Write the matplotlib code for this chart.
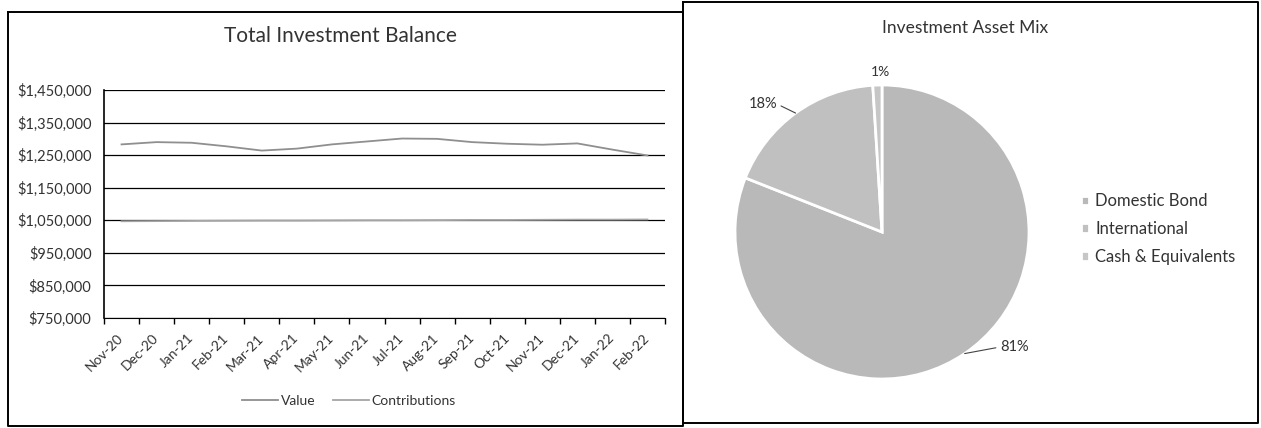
import numpy as np
import matplotlib.pyplot as plt
from matplotlib.lines import Line2D
from matplotlib.ticker import FuncFormatter, FixedLocator

plt.rcParams["font.family"] = ["Lato", "DejaVu Sans"]

W, H = 1261, 428

months = ["Nov-20", "Dec-20", "Jan-21", "Feb-21", "Mar-21", "Apr-21", "May-21", "Jun-21",
          "Jul-21", "Aug-21", "Sep-21", "Oct-21", "Nov-21", "Dec-21", "Jan-22", "Feb-22"]
value = [1283000, 1290000, 1288000, 1277000, 1264000, 1270000, 1283000, 1292000,
         1301000, 1300000, 1290000, 1285000, 1282000, 1286000, 1267000, 1249000]
contributions = [1047000, 1047500, 1048000, 1048500, 1049000, 1049000, 1049500, 1050000,
                 1050000, 1050500, 1051000, 1051000, 1051500, 1052000, 1052000, 1052500]

asset_names = ["Domestic Bond", "International", "Cash & Equivalents"]
asset_share = [81, 18, 1]

text_col = "#333333"
line_col = "#8f8f8f"


def px_box(x0, y0, x1, y1):
    # pixel box (top-left origin) -> figure fraction [left, bottom, width, height]
    return [x0 / W, 1 - y1 / H, (x1 - x0) / W, (y1 - y0) / H]


fig = plt.figure(figsize=(W / 100, H / 100), dpi=100)
fig.patch.set_facecolor("white")

# ---- Total Investment Balance ----
ax = fig.add_axes(px_box(104, 90, 665, 318))
x = np.arange(len(months))
ax.plot(x, value, color=line_col, lw=1.3, label="Value")
ax.plot(x, contributions, color="#a5a5a5", lw=1.3, label="Contributions")
ax.set_xlim(-0.5, len(months) - 0.5)
ax.set_ylim(750000, 1450000)
ax.set_yticks(np.arange(750000, 1450001, 100000))
ax.yaxis.set_major_formatter(FuncFormatter(lambda v, p: f"${v:,.0f}"))
ax.grid(axis="y", color="black", lw=0.9)
ax.set_axisbelow(True)
for s in ["top", "right"]:
    ax.spines[s].set_visible(False)
ax.spines["left"].set_color("black")
ax.spines["bottom"].set_color("black")
ax.spines["left"].set_linewidth(1.2)
ax.tick_params(axis="y", length=0, pad=9, labelsize=10.5, labelcolor=text_col)
ax.set_xticks(x)
ax.set_xticklabels(months, rotation=45, ha="right", va="center", rotation_mode="anchor")
ax.tick_params(axis="x", which="major", length=0, pad=13, labelsize=10, labelcolor=text_col)
ax.xaxis.set_minor_locator(FixedLocator(np.arange(-0.5, len(months), 1.0)))
ax.tick_params(axis="x", which="minor", length=4, width=1, color="black", direction="out")

fig.legend(loc="center", bbox_to_anchor=(349 / W, 1 - 401 / H), ncol=2, frameon=False,
           fontsize=10, handlelength=2.6, handletextpad=0.2, columnspacing=1.2,
           labelcolor=text_col)
fig.text(340 / W, 1 - 36 / H, "Total Investment Balance", ha="center", va="center",
         fontsize=15, color=text_col)

# ---- Investment Asset Mix ----
cx, cy, r = 882, 232, 147
pax = fig.add_axes(px_box(cx - r, cy - r, cx + r, cy + r))
wedges, _ = pax.pie(asset_share, startangle=90, counterclock=False,
                    colors=["#b9b9b9", "#c0c0c0", "#c6c6c6"],
                    wedgeprops=dict(edgecolor="white", linewidth=2))
pax.set_xlim(-1, 1)
pax.set_ylim(-1, 1)
pax.set_aspect("equal")
pax.axis("off")

total = sum(asset_share)
label_pos = [((1000 - cx) / r, (cy - 347) / r, "left"),
             ((777 - cx) / r, (cy - 104) / r, "right"),
             ((880 - cx) / r, (cy - 72) / r, "center")]
start = 90.0
for share, (tx, ty, ha) in zip(asset_share, label_pos):
    frac = share / total
    mid = np.deg2rad(start - 180 * frac)
    start -= 360 * frac
    edge = (np.cos(mid), np.sin(mid))
    txt = f"{100 * frac:.0f}%"
    if ha == "center":
        pax.text(tx, ty, txt, ha="center", va="center", fontsize=10, color=text_col,
                 clip_on=False)
    else:
        pax.annotate(txt, xy=edge, xytext=(tx, ty), ha=ha, va="center", fontsize=10.5,
                     color=text_col, annotation_clip=False,
                     arrowprops=dict(arrowstyle="-", color="#444444", lw=0.8,
                                     relpos=(0 if ha == "left" else 1, 0.5),
                                     shrinkA=1, shrinkB=0))

fig.legend(wedges, asset_names, loc="center left",
           bbox_to_anchor=(1066 / W, 1 - 229 / H), frameon=False, fontsize=12,
           handlelength=0.5, handleheight=0.5, handletextpad=0.35, labelspacing=0.7,
           labelcolor=text_col)
fig.text(965 / W, 1 - 28 / H, "Investment Asset Mix", ha="center", va="center",
         fontsize=12.5, color=text_col)

# panel frames
frames = [(8, 12, 683, 426), (683, 2, 1258, 423)]
for x0, y0, x1, y1 in frames:
    xs = [x0 / W, x1 / W, x1 / W, x0 / W, x0 / W]
    ys = [1 - y0 / H, 1 - y0 / H, 1 - y1 / H, 1 - y1 / H, 1 - y0 / H]
    fig.add_artist(Line2D(xs, ys, color="black", lw=1.4, transform=fig.transFigure))

fig.savefig("out.png", dpi=100)
